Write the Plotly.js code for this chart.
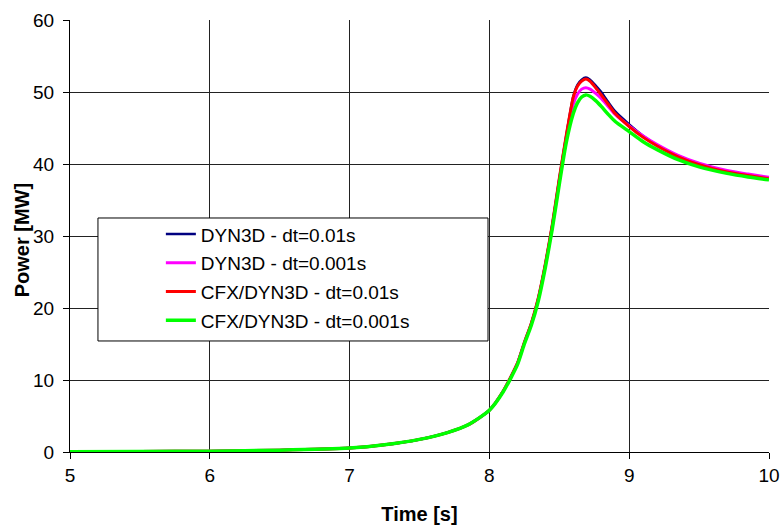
<!DOCTYPE html>
<html>
<head>
<meta charset="utf-8">
<script src="https://cdn.plot.ly/plotly-3.0.1.min.js"></script>
<style>html,body{margin:0;padding:0;background:#fff;}#chart{width:780px;height:530px;}</style>
</head>
<body>
<div id="chart"></div>
<script>
var time = [5.0, 5.5, 6.0, 6.5, 7.0, 7.25, 7.5, 7.7, 7.85, 8.0, 8.1, 8.2, 8.25, 8.3, 8.35, 8.4, 8.45, 8.5, 8.55, 8.6, 8.63, 8.66, 8.69, 8.72, 8.76, 8.8, 8.85, 8.9, 9.0, 9.1, 9.2, 9.35, 9.5, 9.7, 9.85, 10.0];

var dyn3d_01 = [0.05, 0.08, 0.12, 0.25, 0.55, 1.0, 1.75, 2.7, 3.8, 5.8, 8.5, 12.3, 15.2, 17.9, 21.4, 26.1, 31.6, 38.0, 44.0, 49.4, 51.0, 51.7, 52.0, 51.7, 50.9, 50.0, 48.6, 47.3, 45.5, 43.9, 42.6, 41.0, 39.9, 38.9, 38.4, 38.0];
var dyn3d_001 = [0.05, 0.08, 0.12, 0.25, 0.55, 1.0, 1.75, 2.7, 3.8, 5.8, 8.5, 12.3, 15.2, 17.8, 21.3, 25.9, 31.3, 37.6, 43.5, 48.3, 49.7, 50.4, 50.6, 50.4, 49.8, 49.1, 48.0, 46.9, 45.3, 43.9, 42.7, 41.2, 40.1, 39.1, 38.6, 38.15];
var cfx_01 = [0.05, 0.08, 0.12, 0.25, 0.55, 1.0, 1.75, 2.7, 3.8, 5.8, 8.5, 12.3, 15.2, 17.9, 21.4, 26.1, 31.6, 38.0, 44.0, 49.3, 50.8, 51.5, 51.8, 51.5, 50.6, 49.6, 48.3, 47.0, 45.2, 43.7, 42.5, 41.0, 39.9, 38.9, 38.4, 37.95];
var cfx_001 = [0.05, 0.08, 0.12, 0.25, 0.55, 1.0, 1.75, 2.7, 3.8, 5.8, 8.4, 12.1, 15.0, 17.6, 21.0, 25.6, 31.0, 37.2, 43.0, 47.0, 48.5, 49.3, 49.6, 49.4, 48.8, 48.0, 46.9, 45.9, 44.5, 43.1, 42.0, 40.6, 39.6, 38.7, 38.2, 37.8];

var names = ['DYN3D - dt=0.01s', 'DYN3D - dt=0.001s', 'CFX/DYN3D - dt=0.01s', 'CFX/DYN3D - dt=0.001s'];
var xTicks = [5, 6, 7, 8, 9, 10];
var yTicks = [0, 10, 20, 30, 40, 50, 60];

var series = [dyn3d_01, dyn3d_001, cfx_01, cfx_001];
var colors = ['#000080', '#ff00ff', '#ff0000', '#00ff00'];
var widths = [2.5, 3, 3, 3.5];

var traces = series.map(function (s, i) {
  return {
    x: time, y: s, type: 'scatter', mode: 'lines', name: names[i],
    legendgroup: 'g' + i,
    line: {color: colors[i], width: widths[i], shape: 'spline', smoothing: 0.6}
  };
});

var font = 'Arial, "Liberation Sans", sans-serif';
var layout = {
  width: 780, height: 530,
  margin: {l: 70, r: 11, t: 20, b: 78},
  paper_bgcolor: '#fff', plot_bgcolor: '#fff',
  font: {family: font, size: 19, color: '#000'},
  showlegend: true,
  legend: {
    x: 0.13, xanchor: 'left', y: 0.548, yanchor: 'top',
    bgcolor: 'rgba(0,0,0,0)', borderwidth: 0,
    font: {family: font, size: 19, color: '#000'},
    traceorder: 'grouped', tracegroupgap: 1,
    itemwidth: 30
  },
  xaxis: {
    range: [5, 10], tickvals: xTicks, ticktext: xTicks.map(String),
    showgrid: true, gridcolor: '#222', gridwidth: 1,
    showline: true, linecolor: '#000', linewidth: 1,
    ticks: 'outside', ticklen: 6, tickcolor: '#000',
    zeroline: false, mirror: false,
    tickfont: {family: font, size: 19},
    title: {text: '<b>Time [s]</b>', font: {family: font, size: 20}, standoff: 22}
  },
  yaxis: {
    range: [0, 60], tickvals: yTicks, ticktext: yTicks.map(String),
    showgrid: true, gridcolor: '#222', gridwidth: 1,
    showline: true, linecolor: '#000', linewidth: 1,
    ticks: 'outside', ticklen: 6, tickcolor: '#000',
    ticklabelstandoff: 5,
    zeroline: false,
    tickfont: {family: font, size: 19}
  },
  annotations: [{
    text: '<b>Power [MW]</b>', xref: 'paper', yref: 'paper',
    x: 0, y: 0.49, xanchor: 'center', yanchor: 'middle',
    xshift: -48, textangle: -90, showarrow: false,
    font: {family: font, size: 20, color: '#000'}
  }],
  shapes: [{
    type: 'rect', xref: 'paper', yref: 'paper',
    x0: 0.040, x1: 0.598, y0: 0.257, y1: 0.5417,
    line: {color: '#000', width: 1}, fillcolor: '#fff', layer: 'above'
  }]
};

Plotly.newPlot('chart', traces, layout, {displayModeBar: false, staticPlot: true});
</script>
</body>
</html>
